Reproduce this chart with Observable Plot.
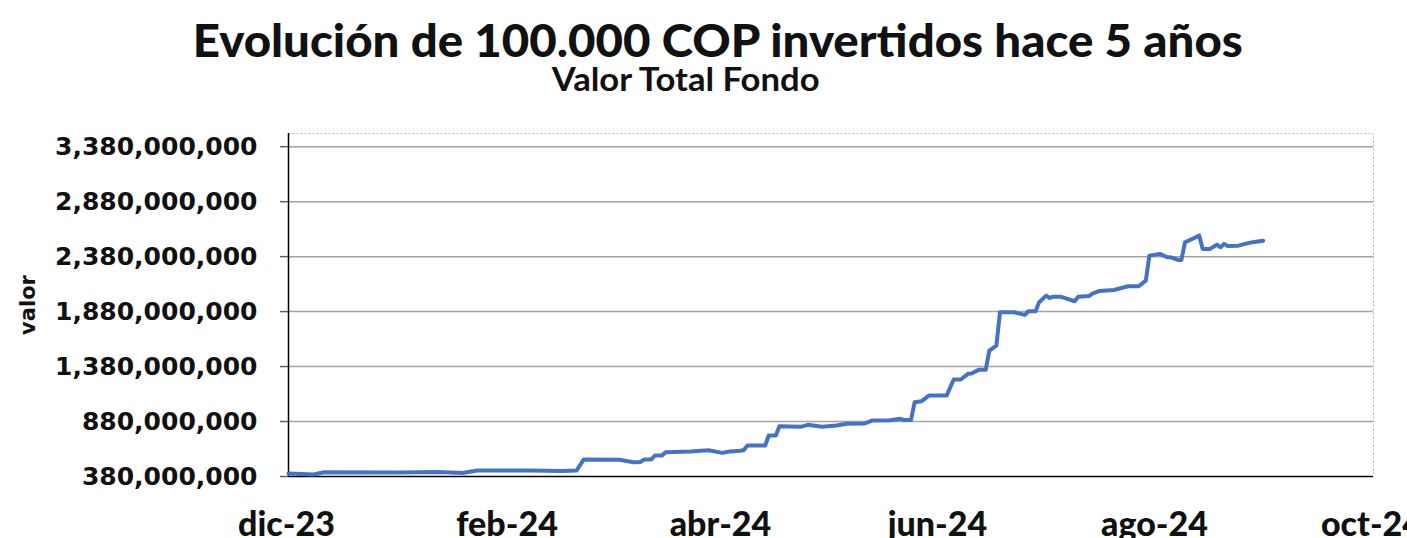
<!DOCTYPE html>
<html>
<head>
<meta charset="utf-8">
<script src="https://cdn.jsdelivr.net/npm/d3@7"></script>
<script src="https://cdn.jsdelivr.net/npm/@observablehq/plot@0.6"></script>
<style>
  html, body { margin: 0; padding: 0; background: #fff; overflow: hidden; }
  #wrap { position: relative; width: 1407px; height: 538px; }
  .ttl { position: absolute; left: 0; white-space: nowrap; font-family: Lato, sans-serif; font-weight: 900; color: #111; transform-origin: center center; }
  #title { font-size: 46px; line-height: 39px; top: 20px; }
  #subtitle { font-size: 32px; line-height: 29px; top: 64px; font-weight: 700; }
  #chart { position: absolute; left: 0; top: 100px; }
  #chart g[aria-label="y-axis tick label"] { font-family: "DejaVu Sans", sans-serif; font-weight: bold; font-size: 25px; fill: #111; }
  #chart g[aria-label="x-axis tick label"] { font-family: Lato, sans-serif; font-weight: 900; font-size: 34px; fill: #111; }
  #chart g[aria-label="text"] { font-family: "DejaVu Sans", sans-serif; font-weight: bold; font-size: 21px; fill: #111; }
</style>
</head>
<body>
<div id="wrap">
  <div id="title" class="ttl">Evolución de 100.000 COP invertidos hace 5 años</div>
  <div id="subtitle" class="ttl">Valor Total Fondo</div>
  <div id="chart"></div>
</div>
<script>
const fechas = ["2023-12-01","2023-12-08","2023-12-11","2024-01-01","2024-01-12","2024-01-19","2024-01-23","2024-02-07","2024-02-16","2024-02-20",
  "2024-02-22","2024-03-03","2024-03-07","2024-03-09","2024-03-10","2024-03-12","2024-03-13","2024-03-15","2024-03-16","2024-03-23",
  "2024-03-28","2024-04-01","2024-04-03","2024-04-06","2024-04-07","2024-04-08","2024-04-13","2024-04-14","2024-04-16","2024-04-17",
  "2024-04-23","2024-04-25","2024-04-29","2024-05-03","2024-05-06","2024-05-11","2024-05-13","2024-05-18","2024-05-21","2024-05-22",
  "2024-05-24","2024-05-25","2024-05-27","2024-05-29","2024-06-03","2024-06-05","2024-06-07","2024-06-09","2024-06-10","2024-06-12",
  "2024-06-14","2024-06-15","2024-06-17","2024-06-18","2024-06-22","2024-06-25","2024-06-26","2024-06-28","2024-06-29","2024-07-01",
  "2024-07-02","2024-07-03","2024-07-05","2024-07-09","2024-07-10","2024-07-13","2024-07-14","2024-07-16","2024-07-20","2024-07-24",
  "2024-07-27","2024-07-29","2024-07-30","2024-08-02","2024-08-04","2024-08-05","2024-08-07","2024-08-08","2024-08-09","2024-08-11",
  "2024-08-13","2024-08-14","2024-08-16","2024-08-18","2024-08-19","2024-08-20","2024-08-21","2024-08-24","2024-08-27","2024-08-29","2024-08-31"];
// valor total del fondo, en millones de COP
const valoresMillones = [407,398,419,416,421,412,435,435,430,435,
  535,532,510,512,535,535,571,571,601,607,
  619,595,607,614,621,662,662,753,753,837,
  832,850,832,844,859,862,889,892,905,894,
  895,1055,1065,1116,1116,1262,1262,1314,1316,1350,
  1350,1525,1571,1874,1874,1850,1883,1883,1965,2025,
  2004,2016,2016,1974,2016,2021,2044,2068,2077,2110,
  2110,2162,2389,2405,2374,2374,2350,2350,2510,2541,
  2571,2450,2450,2489,2465,2496,2477,2480,2505,2516,2525];
const yTicks = [380000000, 880000000, 1380000000, 1880000000, 2380000000, 2880000000, 3380000000];
const yMax = 3500000000;
const xTickFechas = ["2023-12-01","2024-02-01","2024-04-01","2024-06-01","2024-08-01","2024-10-01"];
const meses = ["ene","feb","mar","abr","may","jun","jul","ago","sep","oct","nov","dic"];
const ejeY = "valor";

const data = fechas.map((f, i) => ({fecha: new Date(f), valor: valoresMillones[i] * 1e6}));
const xT = xTickFechas.map(f => new Date(f));
const fmtX = d => meses[d.getUTCMonth()] + "-" + String(d.getUTCFullYear()).slice(2);

const chart = Plot.plot({
  width: 1407, height: 438,
  marginLeft: 288, marginRight: 34, marginTop: 33, marginBottom: 62,
  x: {type: "utc", domain: [xT[0], xT[xT.length - 1]]},
  y: {domain: [yTicks[0], yMax]},
  marks: [
    Plot.gridY(yTicks.slice(1), {stroke: "#a3a3a3", strokeOpacity: 1, strokeWidth: 1.5}),
    Plot.frame({stroke: "#b5b5b5", strokeDasharray: "2,2", strokeWidth: 1}),
    Plot.ruleX([xT[0]], {stroke: "#000", strokeWidth: 1.5}),
    Plot.ruleY([yTicks[0]], {stroke: "#000", strokeWidth: 1.5}),
    Plot.axisY(yTicks, {tickFormat: d3.format(","), tickSize: 8, tickPadding: 23, stroke: "#606060", strokeWidth: 1.5, label: null}),
    Plot.axisX(xT, {tickFormat: fmtX, tickSize: 0, tickPadding: 35, dx: -2, label: null}),
    Plot.lineY(data, {x: "fecha", y: "valor", stroke: "#4472C4", strokeWidth: 4}),
    Plot.text([ejeY], {frameAnchor: "left", textAnchor: "middle", lineAnchor: "middle", dx: -260, rotate: -90, text: d => d})
  ]
});
document.getElementById("chart").appendChild(chart);

function fit(id, target, center) {
  const el = document.getElementById(id);
  const w = el.getBoundingClientRect().width;
  el.style.left = (center - w / 2) + "px";
  el.style.transform = "scaleX(" + (target / w) + ")";
}
fit("title", 1050, 718);
fit("subtitle", 268, 686);
</script>
</body>
</html>
